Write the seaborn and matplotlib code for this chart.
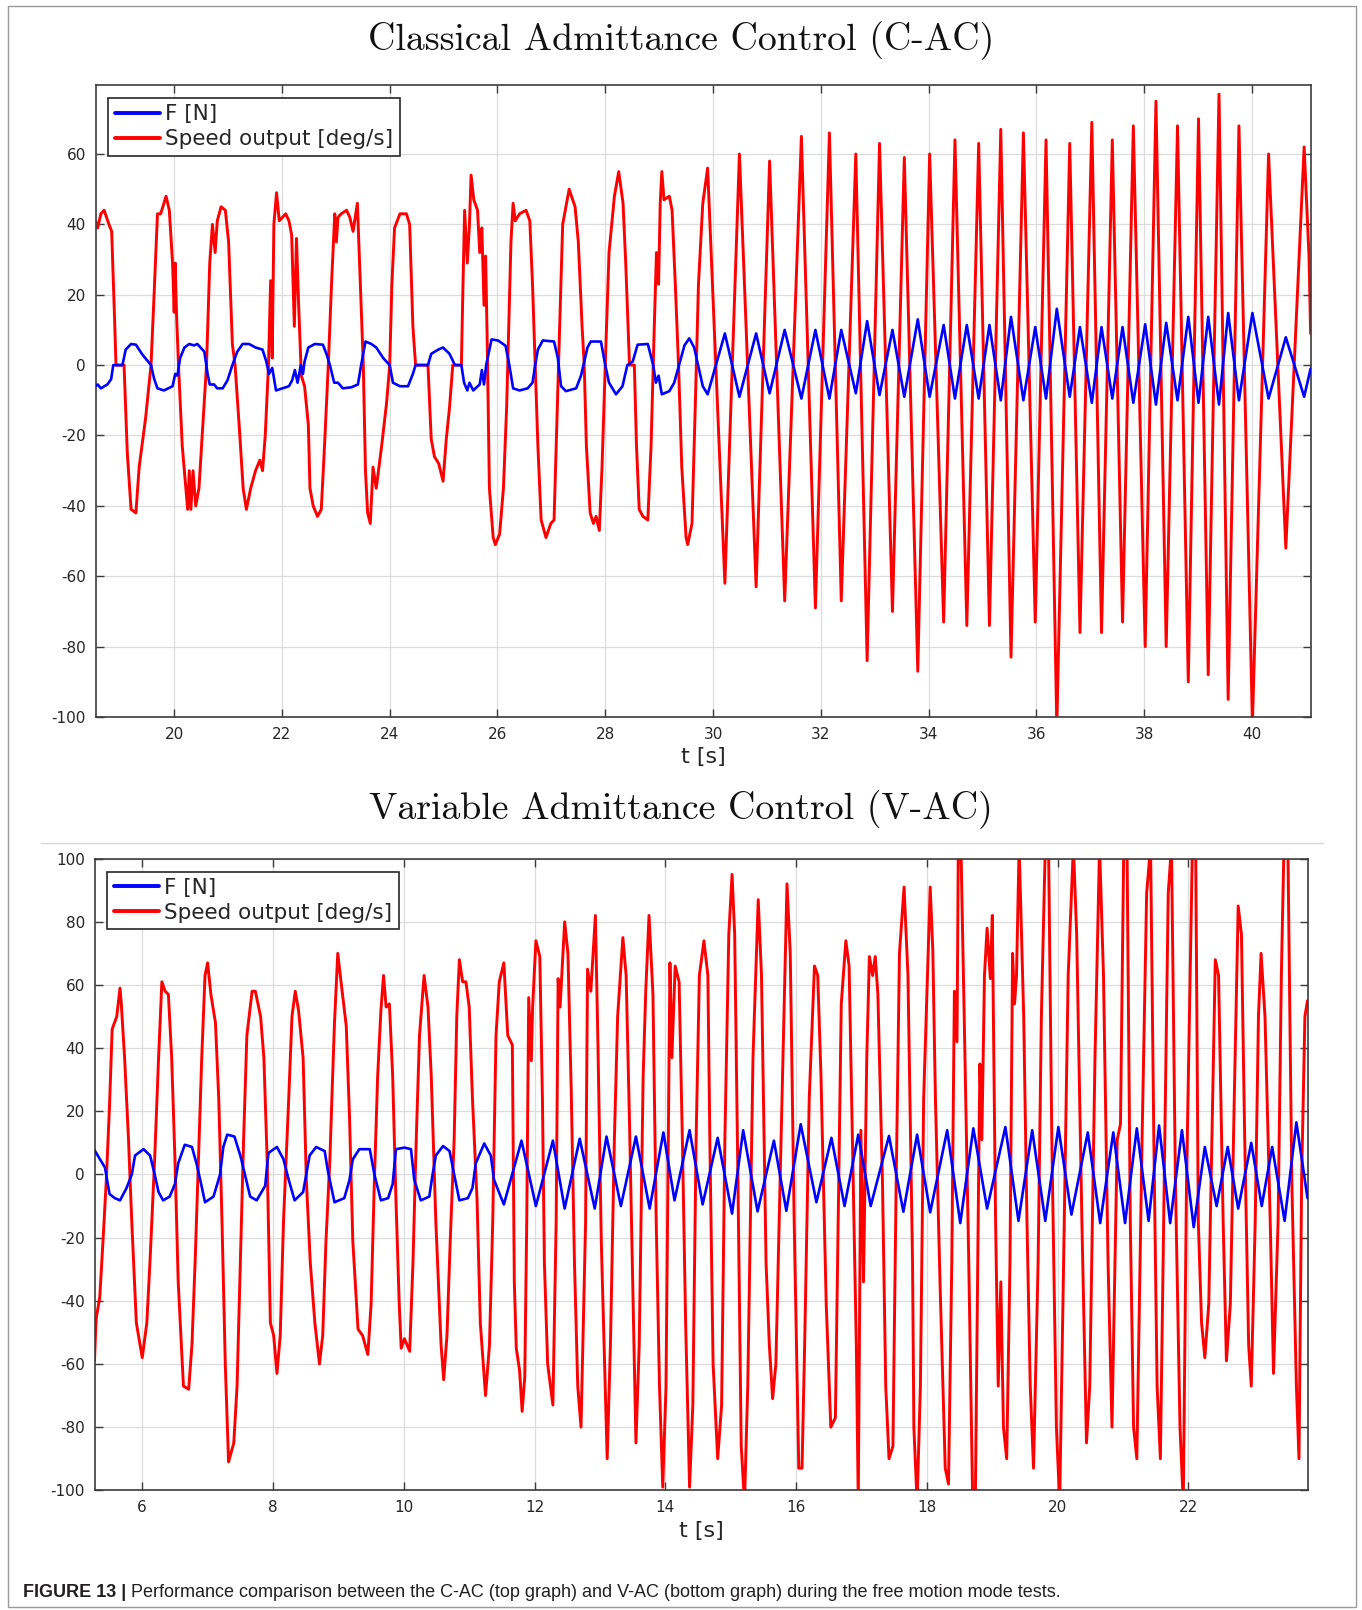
import matplotlib
matplotlib.use("Agg")
import matplotlib.pyplot as plt
import seaborn as sns
import pandas as pd
from matplotlib.lines import Line2D
from matplotlib.patches import Rectangle

# ---------------- data: top panel (C-AC) ----------------
top_red_t = [18.54, 18.58, 18.64, 18.70, 18.79, 18.84, 18.89, 18.92, 19.07, 19.13, 19.20, 19.29, 19.35, 19.47,
             19.57, 19.63, 19.69, 19.75, 19.85, 19.91, 19.97, 20.00, 20.02, 20.04, 20.08, 20.15, 20.25, 20.28,
             20.31, 20.35, 20.40, 20.46, 20.56, 20.60, 20.66, 20.71, 20.76, 20.80, 20.87, 20.95, 21.01, 21.08,
             21.13, 21.21, 21.28, 21.34, 21.42, 21.51, 21.59, 21.64, 21.69, 21.75, 21.79, 21.82, 21.85, 21.90,
             21.95, 22.07, 22.13, 22.18, 22.23, 22.27, 22.31,
             22.36, 22.42, 22.49, 22.52, 22.58, 22.66, 22.73, 22.79, 22.86, 22.92, 22.98, 23.01, 23.04, 23.10,
             23.20, 23.26, 23.32, 23.40, 23.44, 23.51, 23.55, 23.59, 23.64, 23.69, 23.75, 23.85, 23.94, 24.00,
             24.04, 24.09, 24.19, 24.31, 24.37, 24.43, 24.48, 24.71, 24.77, 24.83, 24.91, 24.99, 25.05, 25.11,
             25.17, 25.33, 25.36, 25.39, 25.44, 25.48, 25.51, 25.56, 25.63, 25.67, 25.71, 25.75, 25.78, 25.81,
             25.85, 25.92, 25.96, 26.04,
             26.11, 26.17, 26.21, 26.25, 26.29, 26.33, 26.41, 26.53, 26.60, 26.65, 26.70, 26.75, 26.81, 26.90,
             26.99, 27.05, 27.10, 27.15, 27.21, 27.33, 27.44, 27.50, 27.57, 27.61, 27.65, 27.72, 27.78, 27.83,
             27.89, 27.94, 28.00, 28.07, 28.17, 28.25, 28.33, 28.38, 28.45, 28.54, 28.58, 28.63, 28.70, 28.79,
             28.85, 28.91, 28.95, 28.99, 29.02, 29.05, 29.09, 29.19, 29.24, 29.30, 29.36, 29.42, 29.50, 29.53,
             29.61, 29.67, 29.73, 29.81, 29.90,
             30.22, 30.49, 30.80, 31.05, 31.33, 31.64, 31.90, 32.16, 32.38, 32.65, 32.86, 33.09, 33.33, 33.55,
             33.80, 34.02, 34.28, 34.49, 34.71, 34.93, 35.13, 35.34, 35.53, 35.76, 35.98, 36.18, 36.38, 36.62,
             36.81, 37.03, 37.21, 37.41, 37.60, 37.80, 38.02, 38.22, 38.41, 38.62, 38.82, 39.01, 39.19, 39.39,
             39.56, 39.76, 40.01, 40.31, 40.63, 40.97, 41.06, 41.09]
top_red_v = [41, 39, 43, 44, 40, 38, 15, 0, 0, -25, -41, -42, -29, -15,
             0, 21, 43, 43, 48, 44, 29, 15, 29, 16, 0, -23, -41, -30,
             -41, -30, -40, -35, -10, 0, 29, 40, 32, 41, 45, 44, 35, 6,
             0, -18, -35, -41, -35, -30, -27, -30, -20, 0, 24, 2, 40, 49,
             41, 43, 41, 37, 11, 36, 17,
             -3, -6, -17, -35, -40, -43, -41, -23, 0, 23, 43, 35, 42, 43,
             44, 42, 38, 46, 29, 0, -30, -42, -45, -29, -35, -23, -11, 0,
             23, 39, 43, 43, 40, 11, 0, 0, -21, -26, -28, -33, -21, -12,
             0, 0, 23, 44, 29, 40, 54, 47, 44, 32, 39, 17, 31, 6,
             -35, -49, -51, -48,
             -35, -12, 11, 35, 46, 41, 43, 44, 41, 23, 0, -23, -44, -49,
             -45, -44, -17, 9, 40, 50, 45, 35, 11, 0, -23, -42, -45, -43,
             -47, -29, 0, 32, 48, 55, 46, 29, 0, 0, -23, -41, -43, -44,
             -23, 11, 32, 23, 46, 55, 47, 48, 44, 23, 0, -29, -49, -51,
             -45, -12, 23, 46, 56,
             -62, 60, -63, 58, -67, 65, -69, 66, -67, 60, -84, 63, -70, 59,
             -87, 60, -73, 64, -74, 63, -74, 67, -83, 66, -73, 64, -103, 63,
             -76, 69, -76, 64, -73, 68, -80, 75, -80, 68, -90, 70, -88, 77,
             -95, 68, -102, 60, -52, 62, 31, 9]

top_blue_t = [18.54, 18.58, 18.64, 18.76, 18.83, 18.87, 18.92, 19.04, 19.10, 19.20, 19.29, 19.41, 19.57, 19.63,
              19.69, 19.81, 19.97, 20.02, 20.06, 20.11, 20.19, 20.28, 20.37, 20.43, 20.56, 20.62, 20.66, 20.74,
              20.80, 20.90, 20.99, 21.08, 21.17, 21.27, 21.39, 21.51, 21.64, 21.71, 21.76, 21.82, 21.89, 22.01,
              22.13, 22.19, 22.24, 22.29,
              22.35, 22.39, 22.42, 22.49, 22.61, 22.76, 22.83, 22.89, 22.97, 23.04, 23.13, 23.29, 23.41, 23.47,
              23.55, 23.66, 23.75, 23.88, 24.00, 24.06, 24.19, 24.34, 24.43, 24.48, 24.71, 24.77, 24.90, 24.99,
              25.11, 25.21, 25.33, 25.38, 25.44, 25.48, 25.55, 25.67, 25.71, 25.75, 25.79, 25.89, 26.01,
              26.15, 26.22, 26.29, 26.41, 26.56, 26.65, 26.70, 26.75, 26.84, 27.05, 27.12, 27.18, 27.27, 27.46,
              27.55, 27.61, 27.67, 27.73, 27.92, 28.00, 28.07, 28.20, 28.32, 28.41, 28.51, 28.60, 28.79, 28.89,
              28.94, 28.99, 29.05, 29.19, 29.28, 29.37, 29.47, 29.56, 29.65, 29.73, 29.81, 29.90,
              30.22, 30.49, 30.80, 31.05, 31.33, 31.64, 31.90, 32.16, 32.38, 32.65, 32.86, 33.09, 33.33, 33.55,
              33.80, 34.02, 34.28, 34.49, 34.71, 34.93, 35.13, 35.34, 35.53, 35.76, 35.98, 36.18, 36.38, 36.62,
              36.81, 37.03, 37.21, 37.41, 37.60, 37.80, 38.02, 38.22, 38.41, 38.62, 38.82, 39.01, 39.19, 39.39,
              39.56, 39.76, 40.01, 40.31, 40.63, 40.97, 41.09]
top_blue_v = [-6, -5.5, -6.6, -5.5, -4, 0, 0, 0, 4.4, 6, 5.8, 3, 0, -4,
              -6.6, -7.2, -6, -2.5, -3, 2, 5, 6, 5.6, 6, 3.8, -2.5, -5.5, -5.5,
              -6.6, -6.6, -4.3, 0, 3.8, 6, 6, 5, 4.4, 1, -2.5, -0.8, -7.2, -6.6,
              -6, -4.3, -1.4, -5,
              0, -2.5, 1, 5, 6, 5.8, 3, 0, -5, -5, -6.6, -6.3, -5.5, 0,
              6.7, 6, 5, 2, 0, -5, -6, -6, -2.5, 0, 0, 3.2, 4.4, 5,
              3.2, 0, 0, -5, -7.2, -5, -7.2, -5.5, -1.4, -5.5, 0, 7.3, 7,
              5.5, 0, -6.6, -7.2, -6.6, -5, 0, 4.4, 7, 6.7, 2, -6, -7.4, -6.6,
              -3, 1, 5, 6.7, 6.7, 0, -5, -8.3, -6, 0, 1, 5.8, 6, 0,
              -5, -3, -8.3, -7.4, -5, 0, 5.6, 7.6, 5, -0.5, -6, -8.3,
              9, -9, 9, -8, 10, -9.5, 10, -9.5, 10, -8, 12.5, -8.5, 10, -9,
              13, -9, 11.4, -9.5, 11.4, -9.5, 11.4, -10, 13.7, -10, 10.8, -9.5, 16, -9,
              10.8, -10.7, 10.8, -9.5, 10.8, -10.7, 11.6, -11.2, 12, -10, 13.7, -10.7, 13.7, -11.2,
              14.8, -10, 14.8, -9.5, 7.9, -9, -1]

# ---------------- data: bottom panel (V-AC) ----------------
bot_red_t = [5.27, 5.29, 5.30, 5.35, 5.40, 5.45, 5.50, 5.54, 5.61, 5.66, 5.68, 5.73, 5.79, 5.84, 5.91, 6.00,
             6.07, 6.12, 6.19, 6.25, 6.30, 6.35, 6.40, 6.45, 6.50, 6.55, 6.63, 6.71, 6.76, 6.81, 6.86, 6.91,
             6.96, 7.00, 7.05, 7.12, 7.17, 7.22, 7.27, 7.32, 7.40, 7.45, 7.50, 7.55, 7.60, 7.68, 7.73, 7.81,
             7.86, 7.91, 7.96, 8.01, 8.06, 8.11, 8.16, 8.24, 8.29, 8.34, 8.39,
             8.46, 8.51, 8.57, 8.64, 8.71, 8.76, 8.81, 8.87, 8.90, 8.94, 8.99, 9.04, 9.12, 9.17, 9.22, 9.30,
             9.37, 9.45, 9.50, 9.55, 9.60, 9.65, 9.69, 9.73, 9.78, 9.83, 9.88, 9.93, 9.96, 10.01, 10.09, 10.14,
             10.19, 10.24, 10.31, 10.37, 10.42, 10.49, 10.57, 10.61, 10.66, 10.71, 10.77, 10.81, 10.85, 10.90,
             10.95, 11.00, 11.05, 11.12, 11.17, 11.25, 11.31, 11.36, 11.41, 11.46, 11.53,
             11.59, 11.66, 11.69, 11.72, 11.77, 11.81, 11.85, 11.88, 11.91, 11.95, 11.97, 12.02, 12.08, 12.12,
             12.15, 12.20, 12.28, 12.33, 12.36, 12.39, 12.46, 12.51, 12.56, 12.61, 12.66, 12.71, 12.78, 12.81,
             12.86, 12.93, 12.97, 13.02, 13.07, 13.11, 13.16, 13.22, 13.27, 13.35, 13.40, 13.45, 13.50, 13.55,
             13.60, 13.66, 13.70, 13.75, 13.81, 13.86, 13.91, 13.96, 14.01, 14.05, 14.07, 14.10, 14.15, 14.21,
             14.26, 14.31, 14.37, 14.42, 14.47, 14.52, 14.59,
             14.65, 14.68, 14.73, 14.80, 14.86, 14.91, 14.97, 15.02, 15.06, 15.11, 15.16, 15.21, 15.26, 15.34,
             15.42, 15.47, 15.54, 15.59, 15.64, 15.69, 15.77, 15.86, 15.91, 15.97, 16.04, 16.09, 16.13, 16.20,
             16.28, 16.33, 16.38, 16.46, 16.53, 16.60, 16.66, 16.69, 16.76, 16.81, 16.86, 16.92, 16.95, 16.99,
             17.03, 17.08, 17.12, 17.17, 17.21, 17.25, 17.32, 17.37, 17.42, 17.48, 17.53, 17.58, 17.65, 17.71,
             17.78,
             17.80, 17.85, 17.90, 17.95, 18.00, 18.05, 18.09, 18.13, 18.20, 18.28, 18.33, 18.38, 18.42, 18.46,
             18.48, 18.52, 18.57, 18.64, 18.70, 18.74, 18.79, 18.81, 18.84, 18.88, 18.92, 18.97, 19.00, 19.05,
             19.09, 19.13, 19.17, 19.22, 19.27, 19.31, 19.34, 19.37, 19.41, 19.48, 19.53, 19.58, 19.63, 19.70,
             19.75, 19.81, 19.86, 19.91, 19.98, 20.03, 20.09, 20.16, 20.24, 20.29, 20.37, 20.44, 20.49, 20.57,
             20.64, 20.70, 20.77, 20.83,
             20.91, 20.96, 21.01, 21.06, 21.11, 21.16, 21.21, 21.29, 21.36, 21.42, 21.47, 21.52, 21.57, 21.62,
             21.69, 21.74, 21.80, 21.87, 21.92, 21.97, 22.06, 22.11, 22.15, 22.20, 22.25, 22.31, 22.37, 22.41,
             22.46, 22.53, 22.58, 22.64, 22.70, 22.76, 22.81, 22.86, 22.92, 22.96, 23.02, 23.07, 23.11, 23.17,
             23.25, 23.30, 23.37, 23.42, 23.46, 23.52, 23.58, 23.65, 23.69, 23.73, 23.78, 23.82]
bot_red_v = [-59, -48, -45, -39, -21, -2, 22, 46, 50, 59, 54, 37, 11, -15, -47, -58,
             -47, -27, 5, 37, 61, 58, 57, 37, 5, -34, -67, -68, -54, -27, 5, 37,
             63, 67, 57, 48, 24, -15, -60, -91, -85, -67, -28, 11, 44, 58, 58, 50,
             37, 5, -47, -51, -63, -51, -15, 24, 50, 58, 52,
             37, -2, -28, -47, -60, -51, -21, 5, 24, 48, 70, 61, 47, 18, -21, -49,
             -51, -57, -41, -2, 31, 52, 63, 53, 54, 31, -8, -41, -55, -52, -56, -28,
             11, 44, 63, 53, 31, -15, -54, -65, -51, -21, 11, 50, 68, 61,
             61, 53, 24, -8, -47, -70, -54, -15, 44, 61, 67,
             44, 41, -34, -55, -62, -75, -64, -15, 56, 36, 53, 74, 69, 24,
             -28, -60, -73, -15, 62, 53, 80, 70, 27, -28, -67, -80, -15, 65,
             58, 82, 40, -21, -60, -90, -54, 11, 50, 75, 63, 18, -34, -85,
             -54, 31, 58, 82, 57, -15, -67, -99, -67, 24, 67, 37, 66, 61,
             11, -47, -99, -73, 11, 63, 74,
             63, 11, -60, -90, -73, 11, 76, 95, 76, -2, -86, -104, -67, 37,
             87, 63, -28, -54, -71, -60, 11, 92, 70, -15, -93, -93, -54, 24,
             66, 63, 31, -41, -80, -77, 11, 54, 74, 66, 11, -54, -104, 14,
             -34, 37, 69, 63, 69, 57, -2, -67, -90, -86, -2, 70, 91, 63,
             -28,
             -80, -104, -67, 24, 57, 91, 71, 24, -34, -93, -98, -28, 58, 42,
             104, 104, 50, -28, -104, -104, -2, 35, 11, 63, 78, 62, 82, -15,
             -67, -34, -80, -90, -28, 70, 54, 63, 104, 50, -15, -67, -93, -28,
             50, 104, 104, 11, -80, -104, -28, 63, 104, 76, -15, -85, -67, 37,
             104, 63, -28, -80,
             11, 16, 104, 104, -15, -80, -90, 11, 89, 104, 11, -67, -90, -15,
             89, 104, -2, -80, -104, -2, 104, 104, -15, -47, -58, -41, 24, 68,
             63, -15, -59, -41, 24, 85, 76, 11, -54, -67, -15, 50, 70, 50,
             -15, -63, -15, 63, 104, 104, -2, -67, -90, -2, 50, 55]

bot_blue_t = [5.27, 5.32, 5.43, 5.50, 5.58, 5.66, 5.76, 5.84, 5.89, 6.02, 6.12, 6.19, 6.25, 6.32, 6.42, 6.50,
              6.55, 6.65, 6.76, 6.83, 6.91, 6.96, 7.09, 7.19, 7.24, 7.30, 7.41, 7.50, 7.56, 7.65, 7.75, 7.88,
              7.93, 8.06, 8.16, 8.24, 8.33,
              8.46, 8.56, 8.66, 8.79, 8.84, 8.94, 9.09, 9.17, 9.22, 9.32, 9.48, 9.55, 9.65, 9.76, 9.83, 9.88,
              10.01, 10.11, 10.16, 10.26, 10.39, 10.44, 10.49, 10.60, 10.70, 10.77, 10.85, 10.98, 11.05, 11.10,
              11.23, 11.33, 11.38, 11.53,
              11.80, 12.02, 12.28, 12.46, 12.69, 12.92, 13.10, 13.32, 13.55, 13.76, 13.97, 14.14, 14.37, 14.57,
              14.80, 15.02, 15.19, 15.41, 15.66, 15.85, 16.07, 16.31, 16.54, 16.74, 16.95, 17.14, 17.42, 17.64,
              17.85, 18.05, 18.31, 18.51, 18.71, 18.92, 19.20, 19.40, 19.61, 19.81, 20.01, 20.21, 20.46, 20.65,
              20.85, 21.03, 21.21, 21.39, 21.55, 21.72, 21.90, 22.08, 22.25, 22.43, 22.60, 22.76, 22.96, 23.12,
              23.28, 23.47, 23.65, 23.82]
bot_blue_v = [7.7, 6, 2.2, -6.2, -7.5, -8.2, -4.3, 0, 6, 8, 6, 0, -5.6, -8.2, -7, -3,
              3.5, 9.4, 8.7, 3.5, -3.9, -8.8, -7, 0, 8.7, 12.6, 12, 6, 0.9, -7, -8.2, -3.6,
              6.8, 8.7, 4.8, -1.7, -8.2,
              -5.6, 6, 8.7, 7.4, 1, -8.8, -7.5, -1.7, 4.8, 8, 8, 0, -8.2, -7.5, -3, 8,
              8.5, 8, -1.7, -8.2, -7, 0, 6, 9, 7.4, 0, -8.2, -7.5, -4.3, 3.5,
              9.8, 6, -1.7, -9.5,
              10.7, -10, 10.7, -10.8, 11.3, -10.8, 12, -10, 12, -10.8, 13.3, -8.2, 14, -9.5,
              11.6, -12.4, 14, -11.7, 10.7, -11.5, 15.9, -8.8, 11.6, -10, 12.6, -10, 12.2, -11.8,
              12.6, -12, 14, -15.4, 14.6, -10.8, 15, -14.7, 14, -14.7, 15, -12.7, 13.3, -15.4,
              13.3, -15.4, 14.6, -14.7, 15.5, -15.4, 14, -16.7, 8.7, -10, 8.7, -10.8, 10, -10,
              8.7, -14.7, 16.5, -7.5]

top_xticks = [20, 22, 24, 26, 28, 30, 32, 34, 36, 38, 40]
top_yticks = [-100, -80, -60, -40, -20, 0, 20, 40, 60]
bot_xticks = [6, 8, 10, 12, 14, 16, 18, 20, 22]
bot_yticks = [-100, -80, -60, -40, -20, 0, 20, 40, 60, 80, 100]

titles = ["Classical Admittance Control (C-AC)", "Variable Admittance Control (V-AC)"]
legend_labels = ["F [N]", "Speed output [deg/s]"]
xlabel = "t [s]"
caption_bold = "FIGURE 13 |"
caption_text = " Performance comparison between the C-AC (top graph) and V-AC (bottom graph) during the free motion mode tests."

# ---------------- figure ----------------
sns.set_theme(style="whitegrid")
plt.rcParams['font.family'] = ['DejaVu Sans']
plt.rcParams['axes.unicode_minus'] = False

W, H = 1362, 1610
fig = plt.figure(figsize=(W / 100, H / 100), dpi=100)
fig.patch.set_facecolor("white")


def frac_rect(l, r, t, b):
    return [l / W, 1 - b / H, (r - l) / W, (b - t) / H]


ax1 = fig.add_axes(frac_rect(95.5, 1310.6, 85, 717))
ax2 = fig.add_axes(frac_rect(94.5, 1307.5, 858.6, 1490.3))

panels = [
    (ax1, top_blue_t, top_blue_v, top_red_t, top_red_v, (18.54, 41.09), (-100, 79.6), top_xticks, top_yticks),
    (ax2, bot_blue_t, bot_blue_v, bot_red_t, bot_red_v, (5.27, 23.82), (-100, 100), bot_xticks, bot_yticks),
]

for ax, bt, bv, rt, rv, xl, yl, xt, yt in panels:
    dfb = pd.DataFrame({"t": bt, "v": bv})
    dfr = pd.DataFrame({"t": rt, "v": rv})
    sns.lineplot(data=dfb, x="t", y="v", sort=False, estimator=None, color="#0000ff",
                 linewidth=1.9, ax=ax, label=legend_labels[0], zorder=3)
    sns.lineplot(data=dfr, x="t", y="v", sort=False, estimator=None, color="#ff0000",
                 linewidth=2.1, ax=ax, label=legend_labels[1], zorder=2)
    ax.set_xlim(*xl)
    ax.set_ylim(*yl)
    ax.set_xticks(xt)
    ax.set_yticks(yt)
    ax.set_facecolor("white")
    ax.grid(True, color="#dcdcdc", linewidth=0.9)
    for s in ax.spines.values():
        s.set_color("#3c3c3c")
        s.set_linewidth(1.2)
    ax.tick_params(axis="both", which="both", direction="in", length=6, width=1.0,
                   color="#3c3c3c", top=True, right=True, labelsize=11, labelcolor="#262626",
                   bottom=True, left=True, pad=7)
    ax.set_xlabel(xlabel, fontsize=16, color="#262626", labelpad=4)
    ax.set_ylabel("")
    leg = ax.legend(loc="upper left", fontsize=15.5, frameon=True, fancybox=False,
                    edgecolor="#262626", framealpha=1, handlelength=2.1, handletextpad=0.25,
                    borderpad=0.3, labelspacing=0.22, borderaxespad=0.6)
    leg.get_frame().set_linewidth(1.2)
    for line in leg.get_lines():
        line.set_linewidth(2.8)

fig.text(681 / W, 1 - 41 / H, titles[0], ha="center", va="center", fontsize=27.3,
         family="cmr10", color="#111111")
fig.text(681 / W, 1 - 810 / H, titles[1], ha="center", va="center", fontsize=27.3,
         family="cmr10", color="#111111")

# separator line and outer frame
fig.add_artist(Line2D([41 / W, 1323 / W], [1 - 843 / H, 1 - 843 / H], color="#d8d8d8", linewidth=1.0))
fig.add_artist(Rectangle((8 / W, 1 - 1607 / H), (1356 - 8) / W, (1607 - 6) / H, fill=False,
                         edgecolor="#9a9a9a", linewidth=1.0, transform=fig.transFigure))

# caption
t1 = fig.text(22.6 / W, 1 - 1592 / H, caption_bold, ha="left", va="center", fontsize=13,
              family="Liberation Sans", fontweight="bold", color="#231f20")
fig.canvas.draw()
bb = t1.get_window_extent()
fig.text(bb.x1 / W, 1 - 1592 / H, caption_text, ha="left", va="center", fontsize=13,
         family="Liberation Sans", color="#231f20")

fig.savefig("out.png", dpi=100, facecolor="white")
